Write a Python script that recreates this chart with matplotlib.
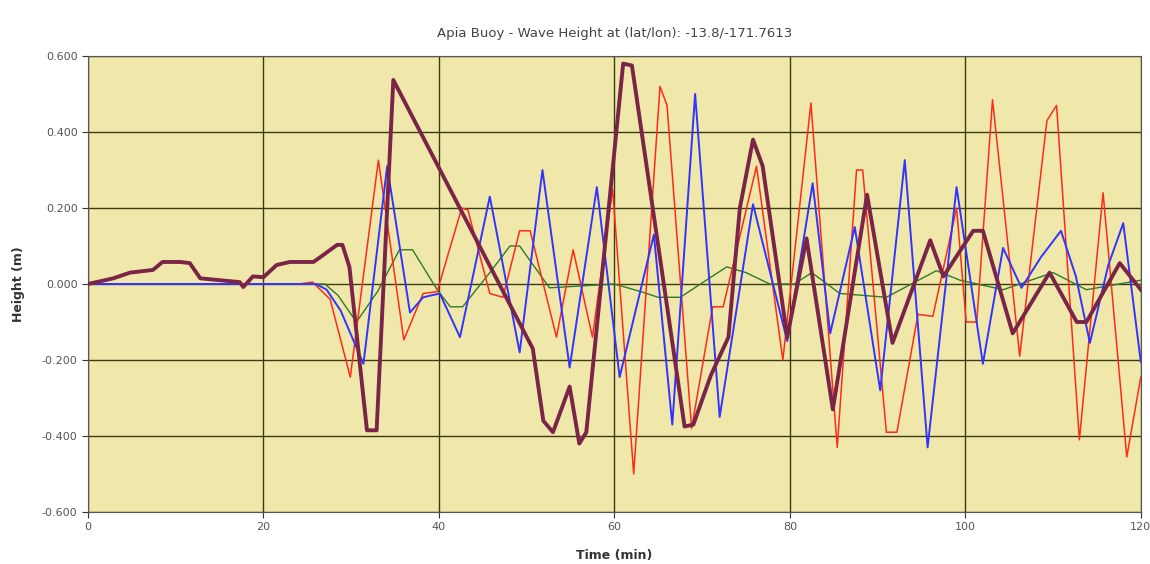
import matplotlib.pyplot as plt

# Wave height traces (time in minutes, height in metres)
t_maroon = [0, 2.9, 4.8, 7.4, 8.5, 10.5, 11.6, 12.8, 15, 17.3, 17.7, 18.8, 20, 21.5, 23, 25.7,
            26.8, 28.4, 29.0, 29.8, 31.8, 32.9, 34.8, 50.7, 51.9, 53.0, 54.9, 56.0, 56.8, 61.0,
            62.0, 68.0, 69.0, 71.0, 73.0, 74.3, 75.8, 76.9, 79.7, 81.9, 84.9, 88.8, 91.7, 96.0,
            97.5, 100.9, 102.0, 105.4, 109.6, 112.7, 113.8, 117.6, 120]
h_maroon = [0.0, 0.015, 0.03, 0.037, 0.058, 0.058, 0.055, 0.015, 0.01, 0.005, -0.008, 0.02, 0.018,
            0.05, 0.058, 0.058, 0.076, 0.103, 0.103, 0.045, -0.385, -0.385, 0.537, -0.17, -0.36,
            -0.39, -0.27, -0.42, -0.39, 0.58, 0.575, -0.375, -0.37, -0.24, -0.14, 0.2, 0.38, 0.31,
            -0.14, 0.12, -0.33, 0.235, -0.155, 0.115, 0.02, 0.14, 0.14, -0.13, 0.03, -0.10, -0.10,
            0.055, -0.015]

t_red = [0, 24, 25.6, 27.6, 29.9, 33.1, 36.0, 38.2, 39.8, 42.6, 43.3, 45.8, 47.3, 49.2, 50.4,
         53.4, 55.3, 57.5, 59.8, 62.2, 65.2, 66.0, 68.8, 71.2, 72.4, 76.2, 79.2, 82.4, 85.4,
         87.6, 88.3, 91.0, 92.2, 94.6, 96.3, 99.0, 100.1, 101.3, 103.1, 106.2, 109.3, 110.4,
         113.0, 115.7, 118.4, 120]
h_red = [0.0, 0.0, 0.005, -0.04, -0.245, 0.326, -0.147, -0.025, -0.02, 0.2, 0.195, -0.025, -0.035,
         0.14, 0.14, -0.14, 0.09, -0.14, 0.25, -0.5, 0.52, 0.47, -0.38, -0.06, -0.06, 0.31, -0.2,
         0.476, -0.43, 0.3, 0.3, -0.39, -0.39, -0.08, -0.085, 0.2, -0.1, -0.1, 0.485, -0.19, 0.43,
         0.47, -0.41, 0.24, -0.455, -0.245]

t_blue = [0, 26, 27.2, 28.8, 31.4, 34.1, 36.7, 38.2, 40.1, 42.4, 45.8, 49.2, 51.8, 54.9, 58.0,
          60.6, 64.5, 66.6, 69.2, 72.0, 75.8, 79.7, 82.6, 84.6, 87.4, 90.3, 93.1, 95.7, 99.0,
          102.0, 104.3, 106.4, 108.6, 110.9, 112.6, 114.2, 116.3, 118.0, 120]
h_blue = [0.0, 0.0, -0.015, -0.07, -0.21, 0.31, -0.075, -0.035, -0.025, -0.14, 0.23, -0.18, 0.3,
          -0.22, 0.255, -0.245, 0.13, -0.37, 0.5, -0.35, 0.21, -0.15, 0.265, -0.13, 0.15, -0.28,
          0.326, -0.43, 0.255, -0.21, 0.095, -0.01, 0.07, 0.14, 0.02, -0.155, 0.05, 0.16, -0.205]

t_green = [0, 27, 28.5, 30.6, 33, 35.5, 37.0, 39.8, 41.3, 42.7, 45.8, 48.1, 49.2, 52.6, 60, 63,
           65, 67.5, 72.8, 75, 77.7, 80.5, 82.5, 85.7, 91, 96.7, 99.4, 104.3, 110, 113.8, 120]
h_green = [0.0, 0.0, -0.03, -0.1, -0.02, 0.09, 0.09, -0.015, -0.06, -0.06, 0.03, 0.1, 0.1, -0.01,
           0.0, -0.02, -0.035, -0.035, 0.045, 0.03, 0.0, 0.0, 0.03, -0.025, -0.035, 0.035, 0.01,
           -0.015, 0.03, -0.015, 0.01]

x_ticks = [0, 20, 40, 60, 80, 100, 120]
y_ticks = [-0.6, -0.4, -0.2, 0.0, 0.2, 0.4, 0.6]

fig = plt.figure(figsize=(11.5, 5.64), dpi=100)
ax = fig.add_axes([0.0765, 0.0922, 0.9155, 0.8085])
ax.set_facecolor('#f0e8aa')

ax.plot(t_green, h_green, color='#2f7a2a', linewidth=1.0, zorder=3)
ax.plot(t_red, h_red, color='#ff2a1a', linewidth=1.1, zorder=4)
ax.plot(t_blue, h_blue, color='#3333ff', linewidth=1.4, zorder=5)
ax.plot(t_maroon, h_maroon, color='#7a2548', linewidth=2.8, zorder=6)

ax.set_xlim(0, 120)
ax.set_ylim(-0.6, 0.6)
ax.set_xticks(x_ticks)
ax.set_yticks(y_ticks)
ax.set_yticklabels([f'{v:.3f}' for v in y_ticks])
ax.tick_params(labelsize=8, labelcolor='#555555', color='#333333', length=4)
ax.grid(True, color='#3b3a12', linewidth=1.0, zorder=1)
ax.set_axisbelow(True)
for s in ax.spines.values():
    s.set_color('#555555')

ax.set_title('Apia Buoy - Wave Height at (lat/lon): -13.8/-171.7613',
             fontsize=9.5, color='#444444', pad=14)
ax.set_xlabel('Time (min)', fontsize=9, fontweight='bold', color='#333333', labelpad=12)
ax.set_ylabel('Height (m)', fontsize=9, fontweight='bold', color='#333333', labelpad=12)

fig.savefig('out.png', dpi=100)
